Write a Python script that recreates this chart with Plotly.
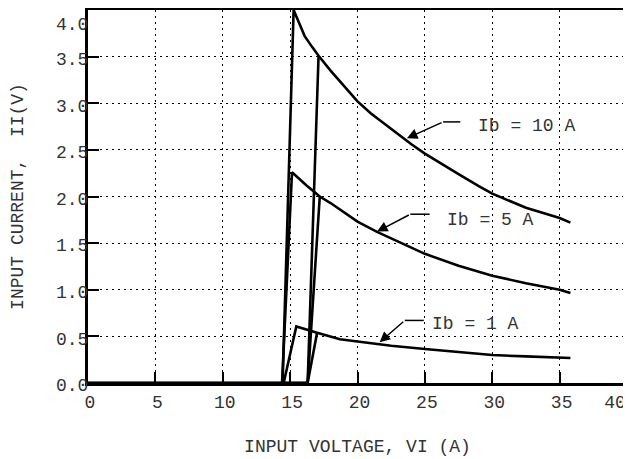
import plotly.graph_objects as go

# ---- data ----
# Each series: rising sweep (zero, jump onto the curve) then, after a break,
# falling sweep (drop from the peak) continuing along the decay curve.
vi_10a = [0, 16.3, 17.11, None, 14.44, 15.26, 15.7, 16.08, 16.6, 17.11, 18.0, 19.0, 20.0, 21.0, 22.5, 24.0, 25.0, 26.0, 27.5, 29.0, 30.0, 32.5, 35.0, 35.8]
ii_10a = [0, 0, 3.51, None, 0, 4.0, 3.85, 3.72, 3.61, 3.51, 3.35, 3.18, 3.02, 2.89, 2.72, 2.56, 2.46, 2.37, 2.24, 2.11, 2.03, 1.88, 1.77, 1.72]

vi_5a = [0, 16.3, 17.2, None, 14.4, 15.14, 16.2, 17.2, 18.0, 19.0, 20.0, 21.45, 22.5, 25.0, 27.5, 30.0, 32.5, 35.0, 35.8]
ii_5a = [0, 0, 2.0, None, 0, 2.26, 2.12, 2.0, 1.93, 1.83, 1.73, 1.62, 1.55, 1.385, 1.257, 1.15, 1.07, 1.0, 0.964]

vi_1a = [0, 16.3, 17.0, None, 14.52, 15.46, 17.0, 18.7, 20.0, 22.5, 25.0, 27.5, 30.0, 32.5, 35.0, 35.8]
ii_1a = [0, 0, 0.54, None, 0, 0.607, 0.54, 0.47, 0.445, 0.40, 0.365, 0.33, 0.30, 0.285, 0.275, 0.268]

series_labels = ["Ib = 10 A", "Ib = 5 A", "Ib = 1 A"]
x_ticks = [0, 5, 10, 15, 20, 25, 30, 35, 40]
y_ticks = [0.0, 0.5, 1.0, 1.5, 2.0, 2.5, 3.0, 3.5, 4.0]
y_tick_text = ["0.0", "0.5", "1.0", "1.5", "2.0", "2.5", "3.0", "3.5", "\u00a0<br>4.0"]

# label callouts: (text x, text y, elbow start x, elbow end x, elbow y, tip x, tip y)
callouts = [
    (28.82, 2.757, 26.35, 27.63, 2.80, 23.67, 2.625),
    (26.52, 1.75, 23.92, 25.35, 1.81, 21.45, 1.624),
    (25.40, 0.632, 23.51, 24.92, 0.671, 21.64, 0.437),
]

FONT = "Liberation Mono"
INK = "#333333"
FS = 18

fig = go.Figure()
for xs, ys, name in [(vi_10a, ii_10a, series_labels[0]),
                     (vi_5a, ii_5a, series_labels[1]),
                     (vi_1a, ii_1a, series_labels[2])]:
    fig.add_trace(go.Scatter(x=xs, y=ys, mode="lines", name=name,
                             line=dict(color="black", width=2.6),
                             connectgaps=False, showlegend=False))

# invisible helper trace so the overlaid axis carrying the last x label is drawn
fig.add_trace(go.Scatter(x=x_ticks[-1:], y=y_ticks[:1], xaxis="x2", yaxis="y",
                         mode="markers", marker=dict(opacity=0, size=1),
                         hoverinfo="skip", showlegend=False))

annotations = []
shapes = []
for (tx, ty, ex0, ex1, ey, px, py), label in zip(callouts, series_labels):
    annotations.append(dict(x=tx, y=ty, xref="x", yref="y", text=label,
                            showarrow=False, xanchor="left", yanchor="middle",
                            font=dict(family=FONT, size=FS, color=INK)))
    annotations.append(dict(x=px, y=py, xref="x", yref="y", ax=ex0, ay=ey,
                            axref="x", ayref="y", text="", showarrow=True,
                            arrowhead=2, arrowsize=1.4, arrowwidth=1.5,
                            arrowcolor="black", standoff=0))
    shapes.append(dict(type="line", xref="x", yref="y", x0=ex0, x1=ex1,
                       y0=ey, y1=ey, line=dict(color="black", width=1.5)))

axis_common = dict(
    showline=True, linecolor="black", linewidth=3, mirror=True,
    ticks="inside", ticklen=11, tickwidth=1.5, tickcolor="black",
    showgrid=True, gridcolor="black", gridwidth=1, griddash="2px,4px",
    zeroline=False, automargin=False, ticklabeloverflow="allow",
    tickfont=dict(family=FONT, size=FS, color=INK),
)

# the page body has an 8 px margin, so the figure is sized to fit inside it
fig.update_layout(
    width=623, height=451,
    margin=dict(l=80, r=4, t=2, b=76),
    paper_bgcolor="white", plot_bgcolor="white",
    xaxis=dict(range=[0, 40], tickvals=x_ticks[:-1], ticktext=[str(v) for v in x_ticks[:-1]],
               ticklabelstandoff=0, ticklabelshift=2,
               title=dict(text="INPUT VOLTAGE, VI (A)", standoff=28,
                          font=dict(family=FONT, size=FS, color=INK)),
               **axis_common),
    # last x label sits just inside the right edge, as in the reference
    xaxis2=dict(range=[0, 40], overlaying="x", anchor="y", side="bottom",
                tickvals=x_ticks[-1:], ticktext=[str(v) for v in x_ticks[-1:]],
                ticklabelstandoff=0, ticklabelshift=-12,
                ticks="inside", ticklen=11, tickcolor="rgba(0,0,0,0)",
                showline=True, linewidth=3, linecolor="rgba(0,0,0,0)",
                showgrid=False, zeroline=False,
                automargin=False, ticklabeloverflow="allow",
                tickfont=dict(family=FONT, size=FS, color=INK)),
    yaxis=dict(range=[0, 4], tickvals=y_ticks, ticktext=y_tick_text,
               ticklabelstandoff=-7, ticklabelshift=2,
               title=dict(text="INPUT CURRENT,  II(V)", standoff=37,
                          font=dict(family=FONT, size=FS, color=INK)),
               **axis_common),
    annotations=annotations,
    shapes=shapes,
)

fig.write_html("out.html")
